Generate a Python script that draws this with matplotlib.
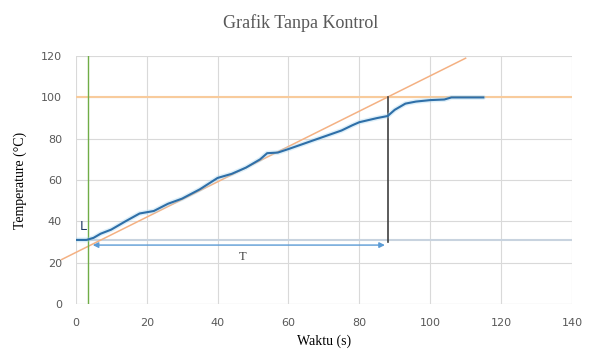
import matplotlib.pyplot as plt
import numpy as np

# measured temperature (no control)
waktu = [0, 3, 5, 7, 10, 14, 18, 22, 26, 30, 35, 40, 44, 48, 52, 54, 57, 60,
         65, 70, 75, 78, 80, 85, 88, 90, 93, 96, 100, 104, 106, 115]
suhu = [31, 31, 32, 34, 36, 40, 43.8, 45, 48.5, 51, 55.5, 61, 63, 66, 70, 73, 73.3, 75,
        78, 81, 84, 86.5, 88, 90, 91, 94, 97, 98, 98.7, 99, 100, 100]

# tangent line and helper lines
tangen_x = [-4, 110]
tangen_y = [21.5, 119]
setpoint = 100
suhu_awal = 31
L = 3.5
T_end = 88
arrow_y = 28.5

fig = plt.figure(figsize=(5.97, 3.53), dpi=100)
ax = fig.add_axes([0.127, 0.139, 0.831, 0.702])

ax.set_xlim(0, 140)
ax.set_ylim(0, 120)
ax.set_xticks(np.arange(0, 141, 20))
ax.set_yticks(np.arange(0, 121, 20))
ax.grid(color='#d9d9d9', linewidth=0.8)
ax.set_axisbelow(True)
for s in ax.spines.values():
    s.set_visible(False)
ax.axhline(0, color='#d9d9d9', linewidth=0.8)
ax.tick_params(axis='x', length=0, labelsize=8, colors='#595959', pad=10)
ax.tick_params(axis='y', length=0, labelsize=8, colors='#595959', pad=10)

ax.axhline(setpoint, color='#f8cb9c', linewidth=1.5)
ax.axhline(suhu_awal, color='#c8d3df', linewidth=1.5)
ax.plot(tangen_x, tangen_y, color='#f4b183', linewidth=1.1, clip_on=False)
ax.axvline(L, color='#70ad47', linewidth=1)
ax.plot([T_end, T_end], [30, setpoint], color='#404040', linewidth=1.2)
ax.plot(waktu, suhu, color='#9fd3f0', linewidth=3.5, alpha=0.35, solid_capstyle='round')
ax.plot(waktu, suhu, color='#2e6fa8', linewidth=1.5)
ax.annotate('', xy=(L + 0.5, arrow_y), xytext=(T_end, arrow_y),
            arrowprops=dict(arrowstyle='<|-|>', color='#5b9bd5', lw=1, mutation_scale=8))

ax.text(1.2, 36, 'L', fontsize=9, fontfamily='DejaVu Sans', color='#1f3864')
ax.text(46, 21.5, 'T', fontsize=9, fontfamily='Liberation Serif', color='#404040')

fig.text(0.503, 0.935, 'Grafik Tanpa Kontrol', fontfamily='Liberation Serif', fontsize=13,
         color='#595959', ha='center', va='center')
ax.set_xlabel('Waktu (s)', fontfamily='Liberation Serif', fontsize=10, labelpad=5)
ax.set_ylabel('Temperature (°C)', fontfamily='Liberation Serif', fontsize=10, labelpad=10)

fig.savefig('out.png', dpi=100)
